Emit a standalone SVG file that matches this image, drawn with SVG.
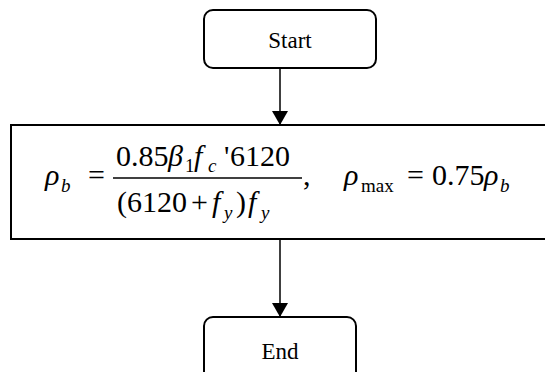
<svg xmlns="http://www.w3.org/2000/svg" width="545" height="372" viewBox="0 0 545 372">
<style>
.box{fill:#fff;stroke:#000;stroke-width:2}
.lbl{font-family:"Liberation Serif","Times New Roman","DejaVu Serif",serif;font-size:23px;fill:#000;text-anchor:middle}
.m{font-family:"Liberation Serif","Times New Roman","DejaVu Serif",serif;font-size:30px;fill:#000}
.i{font-style:italic}
.s{font-size:19px}
.edge{stroke:#000;stroke-width:1.5;fill:none}
</style>
<defs>
<marker id="arr" markerWidth="14" markerHeight="16" refX="14" refY="8" orient="auto" markerUnits="userSpaceOnUse" viewBox="0 0 14 16">
<path d="M0,0 L14,8 L0,16 Z" fill="#000"/>
</marker>
</defs>
<g id="connectors">
<line class="edge" x1="280" y1="68" x2="280" y2="125" marker-end="url(#arr)"/>
<line class="edge" x1="280" y1="239" x2="280" y2="317" marker-end="url(#arr)"/>
</g>
<g id="start">
<rect class="box" x="204" y="10" width="172" height="58" rx="9"/>
<text class="lbl" x="290" y="48">Start</text>
</g>
<g id="formula">
<rect class="box" x="11" y="125" width="600" height="114"/>
<text class="m i" x="45" y="185">ρ</text>
<text class="m i s" x="61" y="192">b</text>
<text class="m" x="88" y="185">=</text>
<line x1="113" y1="178" x2="302" y2="178" stroke="#000" stroke-width="1.3"/>
<text class="m" x="116" y="166">0.85</text>
<text class="m i" x="168" y="166">β</text>
<text class="m s" x="185" y="172">1</text>
<text class="m i" x="194" y="166">f</text>
<text class="m i s" x="208" y="172">c</text>
<text class="m" x="224" y="166">'</text>
<text class="m" x="230" y="166">6120</text>
<text class="m" x="117" y="212">(6120</text>
<text class="m" x="191" y="212">+</text>
<text class="m i" x="212" y="212">f</text>
<text class="m i s" x="224" y="219">y</text>
<text class="m" x="236" y="212">)</text>
<text class="m i" x="248" y="212">f</text>
<text class="m i s" x="261" y="219">y</text>
<text class="m" x="303" y="185">,</text>
<text class="m i" x="344" y="185">ρ</text>
<text class="m s" x="361" y="192">max</text>
<text class="m" x="407" y="185">=</text>
<text class="m" x="432" y="185">0.75</text>
<text class="m i" x="484" y="185">ρ</text>
<text class="m i s" x="500" y="192">b</text>
</g>
<g id="end">
<rect class="box" x="204" y="317" width="152" height="70" rx="9"/>
<text class="lbl" x="280" y="359">End</text>
</g>
</svg>
